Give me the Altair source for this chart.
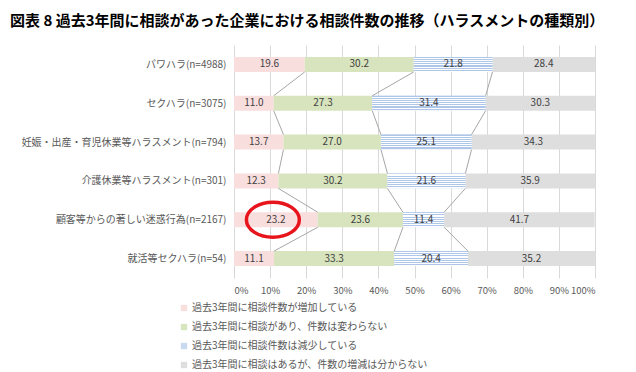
import json
import altair as alt
import pandas as pd

categories = [
    "パワハラ(n=4988)",
    "セクハラ(n=3075)",
    "妊娠・出産・育児休業等ハラスメント(n=794)",
    "介護休業等ハラスメント(n=301)",
    "顧客等からの著しい迷惑行為(n=2167)",
    "就活等セクハラ(n=54)",
]
series = [
    "過去3年間に相談件数が増加している",
    "過去3年間に相談があり、件数は変わらない",
    "過去3年間に相談件数は減少している",
    "過去3年間に相談はあるが、件数の増減は分からない",
]
increased = [19.6, 11.0, 13.7, 12.3, 23.2, 11.1]
unchanged = [30.2, 27.3, 27.0, 30.2, 23.6, 33.3]
decreased = [21.8, 31.4, 25.1, 21.6, 11.4, 20.4]
unknown = [28.4, 30.3, 34.3, 35.9, 41.7, 35.2]
highlight_row, highlight_series = 4, 0
tick_values = list(range(0, 101, 10))

FONT = "Noto Sans CJK JP"
colors = ["#f9dede", "#d7e4bd", "#c9daf0", "#dedede"]
HALF = 0.193

all_vals = [increased, unchanged, decreased, unknown]
rows = []
cums = []
for i, cat in enumerate(categories):
    cum = 0.0
    c = [0.0]
    for s, name in enumerate(series):
        v = all_vals[s][i]
        rows.append(dict(cat=cat, row=i, series=name, sidx=s, value=v,
                         x0=cum, x1=min(cum + v, 100), mid=cum + v / 2,
                         top=i - HALF, bottom=i + HALF, label=f"{v:.1f}"))
        cum += v
        c.append(cum)
    cums.append(c)
df = pd.DataFrame(rows)

conn = []
for i in range(len(categories) - 1):
    for k in (1, 2, 3):
        conn.append(dict(xa=cums[i][k], xb=cums[i + 1][k], ya=i + HALF, yb=i + 1 - HALF))
cdf = pd.DataFrame(conn)

hdf = df[(df.row == highlight_row) & (df.sidx == highlight_series)]

xscale = alt.Scale(domain=[0, 100], nice=False)
yscale = alt.Scale(domain=[-0.5, 5.5], reverse=True, nice=False, zero=False)
xaxis = alt.Axis(values=tick_values, labelExpr="datum.value + '%'", grid=True,
                 gridColor="#d9d9d9", ticks=False, domain=False, labelPadding=7,
                 labelFontSize=9.5, labelColor="#595959", labelFont=FONT, title=None)
yaxis = alt.Axis(values=list(range(len(categories))),
                 labelExpr=json.dumps(categories, ensure_ascii=False) + "[datum.value]",
                 grid=False, ticks=False, domain=False, labelPadding=8, labelLimit=400,
                 labelFontSize=10, labelColor="#595959", labelFont=FONT, title=None)

base = alt.Chart(df)

bars = base.mark_rect().encode(
    x=alt.X("x0:Q", scale=xscale, axis=xaxis),
    x2="x1:Q",
    y=alt.Y("top:Q", scale=yscale, axis=yaxis),
    y2="bottom:Q",
    color=alt.Color("series:N", scale=alt.Scale(domain=series, range=colors),
                    sort=series,
                    legend=alt.Legend(title=None, orient="none", legendX=-55, legendY=258,
                                      direction="vertical", symbolType="square",
                                      symbolSize=40, labelFontSize=10, labelFont=FONT,
                                      labelColor="#595959", rowPadding=9, labelLimit=500,
                                      labelOffset=3, symbolStrokeWidth=0)),
)

stripes = []
n = 7
for j in range(n):
    a = j / n
    b = (j + 0.5) / n
    stripes += [alt.GradientStop(offset=a, color="#aec6e8"),
                alt.GradientStop(offset=b, color="#aec6e8"),
                alt.GradientStop(offset=b, color="#ffffff"),
                alt.GradientStop(offset=(j + 1) / n, color="#ffffff")]
blue_grad = alt.LinearGradient(gradient="linear", stops=stripes, x1=0, y1=0, x2=0, y2=1)

blue = base.transform_filter(alt.datum.sidx == 2).mark_rect(fill=blue_grad).encode(
    x=alt.X("x0:Q", scale=xscale, axis=xaxis),
    x2="x1:Q",
    y=alt.Y("top:Q", scale=yscale, axis=yaxis),
    y2="bottom:Q",
)

connectors = alt.Chart(cdf).mark_rule(color="#a6a6a6", strokeWidth=1).encode(
    x=alt.X("xa:Q", scale=xscale, axis=xaxis),
    x2="xb:Q",
    y=alt.Y("ya:Q", scale=yscale, axis=yaxis),
    y2="yb:Q",
)

labels = base.mark_text(fontSize=10, color="#404040", font=FONT, baseline="middle").encode(
    x=alt.X("mid:Q", scale=xscale, axis=xaxis),
    y=alt.Y("row:Q", scale=yscale, axis=yaxis),
    text="label:N",
)

ellipse = alt.Chart(hdf).mark_point(
    shape="M-1,0 A1,0.66 0 1,1 1,0 A1,0.66 0 1,1 -1,0 Z",
    filled=False, stroke="#e8141b", strokeWidth=3.5, size=2800, xOffset=-3, opacity=1,
).encode(
    x=alt.X("mid:Q", scale=xscale, axis=xaxis),
    y=alt.Y("row:Q", scale=yscale, axis=yaxis),
)

chart = alt.layer(bars, blue, connectors, labels, ellipse).properties(
    width=361, height=233,
    autosize=alt.AutoSizeParams(type="none"),
    padding={"left": 226, "top": 37, "right": 33, "bottom": 94},
    title=alt.TitleParams(
        "図表 8 過去3年間に相談があった企業における相談件数の推移（ハラスメントの種類別）",
        anchor="start", frame="group", dx=-224, fontSize=15, fontWeight="bold", font=FONT,
        color="#000000", offset=16, limit=0),
).configure_view(stroke=None)

chart.save("out.html", embed_options={"renderer": "svg", "actions": False})
